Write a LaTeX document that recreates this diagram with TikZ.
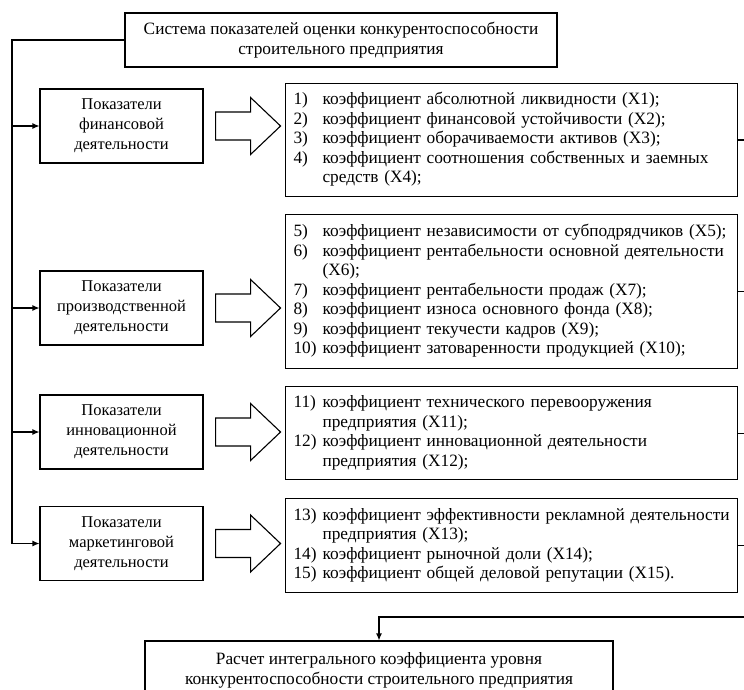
\documentclass[tikz,border=0pt]{standalone}
\usepackage{fontspec}
\setmainfont{Liberation Serif}
\usetikzlibrary{arrows.meta,calc,positioning}

\newcommand\blockarrow[1]{%
  \draw[hollow] ($(#1.east)+(12,-14)$) -- ++(35,0) -- ++(0,-14.5) -- ++(30,28.5)
    -- ++(-30,28.5) -- ++(0,-14.5) -- ++(-35,0) -- cycle;}

\begin{document}
\begin{tikzpicture}[x=1pt,y=-1pt,
  every node/.style={font=\fontsize{17.3}{19.5}\selectfont},
  box/.style={draw,line width=1.1pt,align=center,inner sep=0pt},
  lbox/.style={box,minimum width=163,minimum height=74,
    font=\fontsize{16.5}{20}\selectfont},
  rbox/.style={draw,line width=1.1pt,anchor=north west,minimum width=444,
    text width=436,inner xsep=8,inner ysep=0,align=left},
  link/.style={line width=1.1pt},
  tip/.style={link,-{Latex[length=7pt,width=6pt]}},
  hollow/.style={line width=1.1pt,fill=white}]
  \useasboundingbox (0,0) rectangle (744,690);
  \clip (0,0) rectangle (744,690);
  % top and bottom
  \node[box,minimum width=432,minimum height=54] (sys) at (341,40)
    {Система показателей оценки конкурентоспособности\\строительного предприятия};
  \node[box,minimum width=468,minimum height=59] (res) at (379,670.5)
    {Расчет интегрального коэффициента уровня\\конкурентоспособности строительного предприятия};
  % groups
  \node[lbox] (fin) at (121.5,126) {Показатели\\финансовой\\деятельности};
  \node[lbox] (prod) at (121.5,308) {Показатели\\производственной\\деятельности};
  \node[lbox] (inn) at (121.5,432) {Показатели\\инновационной\\деятельности};
  \node[lbox] (mkt) at (121.5,543.5) {Показатели\\маркетинговой\\деятельности};
  % lists
  \node[rbox,minimum height=113] (r1) at (285,83) {\begin{tabular}{@{}p{29pt}@{}l@{}}
    1) & коэффициент абсолютной ликвидности (X1);\\
    2) & коэффициент финансовой устойчивости (X2);\\
    3) & коэффициент оборачиваемости активов (X3);\\
    4) & коэффициент соотношения собственных и заемных\\
       & средств (X4);
  \end{tabular}};
  \node[rbox,minimum height=154] (r2) at (285,214) {\begin{tabular}{@{}p{29pt}@{}l@{}}
    5) & коэффициент независимости от субподрядчиков (X5);\\
    6) & коэффициент рентабельности основной деятельности\\
       & (X6);\\
    7) & коэффициент рентабельности продаж (X7);\\
    8) & коэффициент износа основного фонда (X8);\\
    9) & коэффициент текучести кадров (X9);\\
    10) & коэффициент затоваренности продукцией (X10);
  \end{tabular}};
  \node[rbox,minimum height=93] (r3) at (285,386) {\begin{tabular}{@{}p{29pt}@{}l@{}}
    11) & коэффициент технического перевооружения\\
        & предприятия (X11);\\
    12) & коэффициент инновационной деятельности\\
        & предприятия (X12);
  \end{tabular}};
  \node[rbox,minimum height=94] (r4) at (285,498) {\begin{tabular}{@{}p{29pt}@{}l@{}}
    13) & коэффициент эффективности рекламной деятельности\\
        & предприятия (X13);\\
    14) & коэффициент рыночной доли (X14);\\
    15) & коэффициент общей деловой репутации (X15).
  \end{tabular}};
  % block arrows
  \foreach \n in {fin,prod,inn,mkt} {\blockarrow{\n}}
  % left trunk
  \coordinate (trunk) at (12,0);
  \draw[link] (sys.west) -| (trunk |- mkt.west);
  \foreach \n in {fin,prod,inn,mkt}
    \draw[tip] (trunk |- \n.west) -- (\n.west);
  % right rail
  \coordinate (rail) at (760,0);
  \foreach \n in {r1,r2,r3,r4}
    \draw[link] (\n.east) -- (\n.east -| rail);
  \draw[tip] (rail |- r1.east) -- (760,617) -| (res.north);
\end{tikzpicture}
\end{document}
